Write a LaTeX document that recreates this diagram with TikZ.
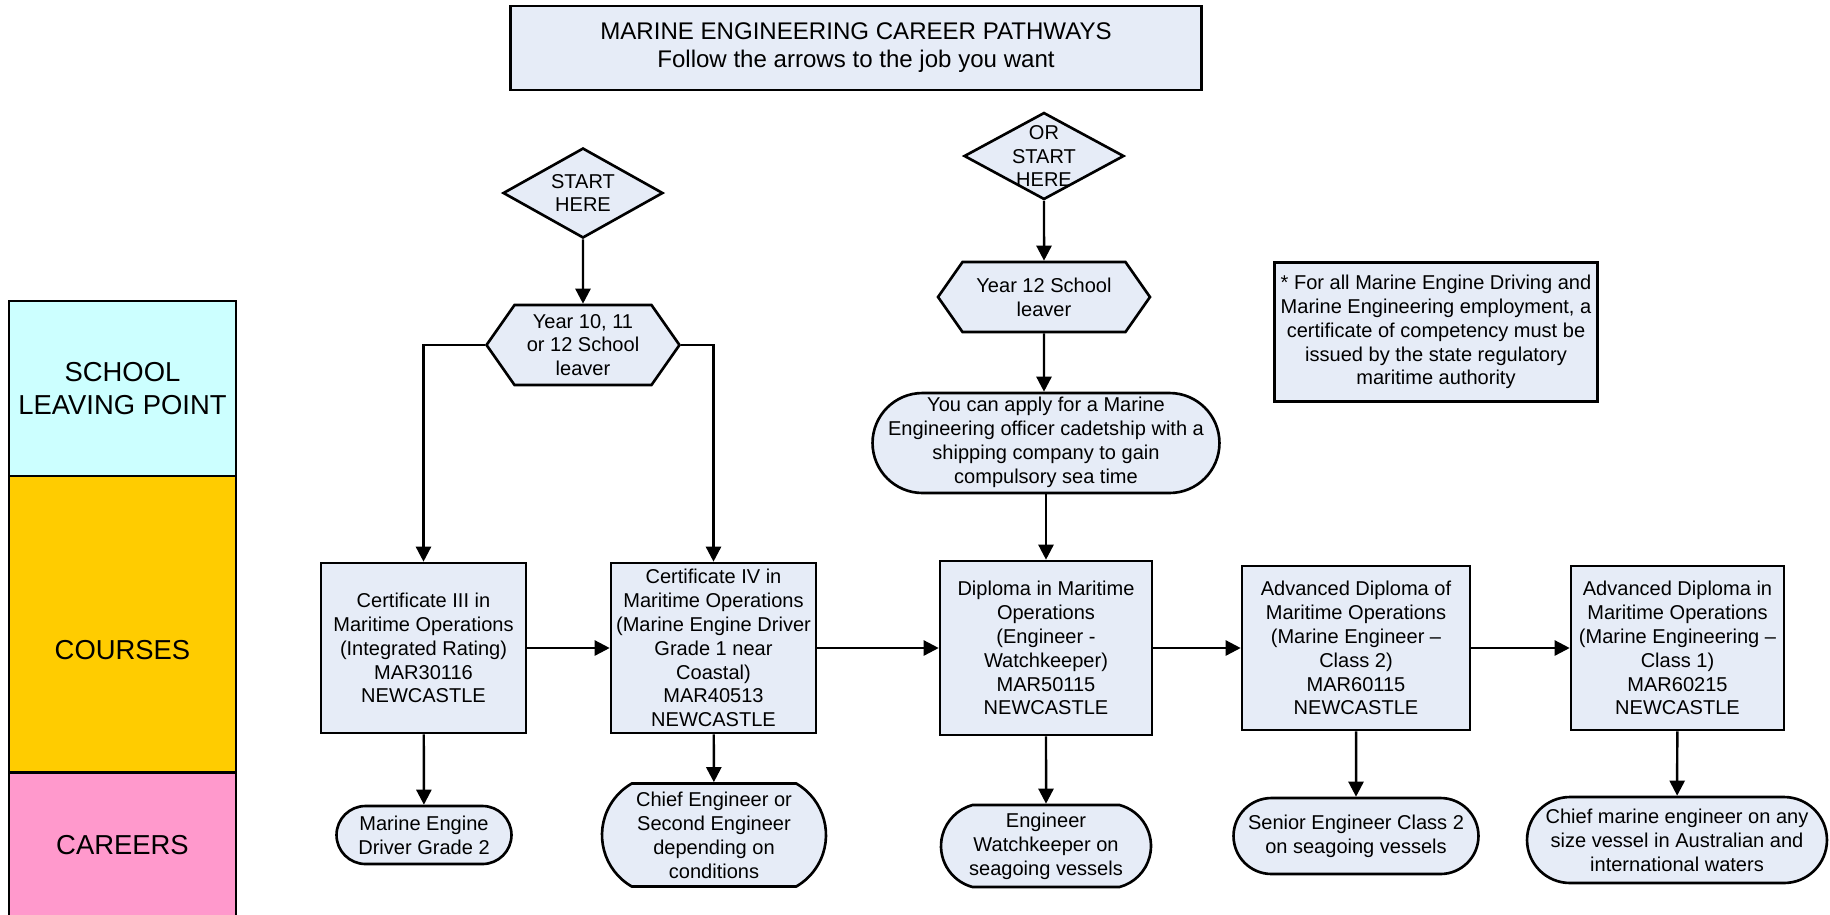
\documentclass[tikz,border=0pt]{standalone}
\usepackage{fontspec}
\setmainfont{Liberation Sans}
\usepackage{xcolor}
\usetikzlibrary{positioning,arrows.meta,shapes.geometric,shapes.misc,shapes.symbols}

\definecolor{boxfill}{RGB}{230,236,247}
\definecolor{schoolc}{RGB}{204,255,255}
\definecolor{coursec}{RGB}{255,204,0}
\definecolor{careerc}{RGB}{255,153,204}

\begin{document}
\begin{tikzpicture}[x=0.02cm, y=-0.02cm,
  font=\fontsize{11.4}{13.6}\selectfont,
  bx/.style={draw, line width=1.5pt, fill=boxfill, align=center, inner sep=0pt},
  course/.style={bx, rectangle, minimum width=4.1cm, minimum height=3.4cm},
  job/.style={bx, rounded rectangle, minimum height=1.6cm},
  dia/.style={bx, diamond, minimum width=3.2cm},
  hexa/.style={bx, signal, signal to=west and east, signal pointer angle=110},
  bandfont/.style={font=\fontsize{15.6}{18.5}\selectfont},
  band/.style={draw, line width=1.5pt, rectangle, minimum width=4.54cm, align=center, bandfont},
  arr/.style={line width=1.4pt, -{Triangle[length=3mm, width=3mm]}}]
\useasboundingbox (0,0) rectangle (1830,914);
% Row labels (left)
\node[band, fill=schoolc, minimum height=3.5cm] (bschool) at (122.5,388.5) {SCHOOL\\LEAVING POINT};
\node[band, fill=coursec, minimum height=5.94cm,
  label={[bandfont, yshift=-0.52cm]center:COURSES}] (bcourse) at (122.5,624.5) {};
\node[band, fill=careerc, minimum height=2.9cm] (bcareer) at (122.5,845) {CAREERS};
% Heading and note
\node[bx, minimum width=13.82cm, minimum height=1.68cm, font=\fontsize{13.7}{16}\selectfont] (title) at (856,48)
  {MARINE ENGINEERING CAREER PATHWAYS\\Follow the arrows to the job you want};
\node[bx, minimum width=6.46cm, minimum height=2.78cm] (note) at (1436,332)
  {* For all Marine Engine Driving and\\Marine Engineering employment, a\\certificate of competency must be\\issued by the state regulatory\\maritime authority};
% Start points
\node[dia, minimum height=1.8cm, label={[align=center]center:START\\HERE}] (startl) at (583,193) {};
\node[dia, minimum height=1.74cm, label={[align=center]center:OR\\START\\HERE}] (startr) at (1044,156) {};
\node[hexa, minimum width=3.86cm, minimum height=1.6cm] (leavel) at (583,345) {Year 10, 11\\or 12 School\\leaver};
\node[hexa, minimum width=4.24cm, minimum height=1.4cm] (leaver) at (1044,297) {Year 12 School\\leaver};
\node[job, minimum width=6.94cm, minimum height=2.0cm] (cadet) at (1046,443)
  {\makebox[4.6cm]{\begin{tabular}{@{}c@{}}You can apply for a Marine\\Engineering officer cadetship with a\\shipping company to gain\\compulsory sea time\end{tabular}}};
% Courses
\node[course] (c3) at (423.5,648) {Certificate III in\\Maritime Operations\\(Integrated Rating)\\MAR30116\\NEWCASTLE};
\node[course] (c4) at (713.5,648) {Certificate IV in\\Maritime Operations\\(Marine Engine Driver\\Grade 1 near\\Coastal)\\MAR40513\\NEWCASTLE};
\node[course, minimum width=4.24cm, minimum height=3.48cm] (dip) at (1046,648) {Diploma in Maritime\\Operations\\(Engineer -\\Watchkeeper)\\MAR50115\\NEWCASTLE};
\node[course, minimum width=4.56cm, minimum height=3.28cm] (adv2) at (1356,648) {Advanced Diploma of\\Maritime Operations\\(Marine Engineer --\\Class 2)\\MAR60115\\NEWCASTLE};
\node[course, minimum width=4.26cm, minimum height=3.28cm] (adv1) at (1677.5,648) {Advanced Diploma in\\Maritime Operations\\(Marine Engineering --\\Class 1)\\MAR60215\\NEWCASTLE};
% Careers
\node[job, minimum width=3.5cm, minimum height=1.16cm] (j3) at (424,835) {Marine Engine\\Driver Grade 2};
\node[job, rounded rectangle arc length=120, minimum width=4.48cm, minimum height=2.06cm] (j4) at (714,835) {Chief Engineer or\\Second Engineer\\depending on\\conditions};
\node[job, rounded rectangle arc length=150, minimum width=4.2cm, minimum height=1.64cm] (jdip) at (1046,846) {Engineer\\Watchkeeper on\\seagoing vessels};
\node[job, minimum width=4.9cm, minimum height=1.52cm] (jadv2) at (1356,836) {Senior Engineer Class 2\\on seagoing vessels};
\node[job, minimum width=6.0cm, minimum height=1.72cm] (jadv1) at (1677,840) {Chief marine engineer on any\\size vessel in Australian and\\international waters};
% Connectors
\draw[arr] (startl) -- (leavel);
\draw[arr] (leavel.west) -| (c3.north);
\draw[arr] (leavel.east) -| (c4.north);
\draw[arr] (startr) -- (leaver);
\draw[arr] (leaver) -- (leaver |- cadet.north);
\draw[arr] (cadet.south -| dip) -- (dip);
\draw[arr] (c3) -- (c4);
\draw[arr] (c4) -- (dip);
\draw[arr] (dip) -- (adv2);
\draw[arr] (adv2) -- (adv1);
\draw[arr] (c3) -- (j3);
\draw[arr] (c4) -- (j4);
\draw[arr] (dip) -- (jdip);
\draw[arr] (adv2) -- (jadv2);
\draw[arr] (adv1) -- (jadv1);
\end{tikzpicture}
\end{document}
